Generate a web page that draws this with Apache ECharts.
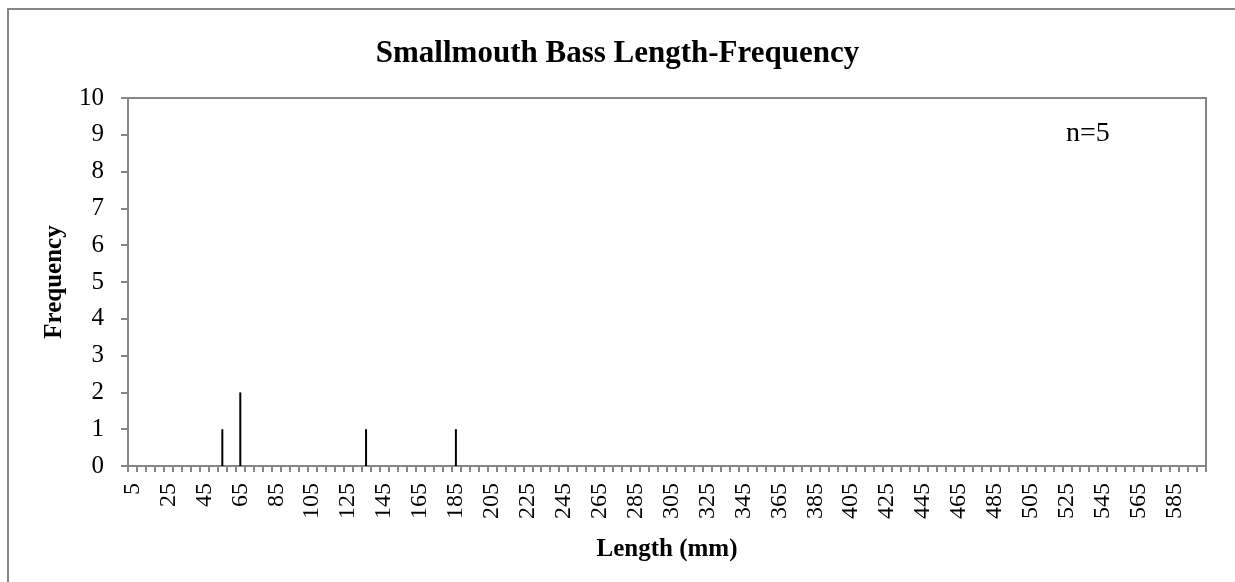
<!DOCTYPE html>
<html>
<head>
<meta charset="utf-8">
<script src="https://cdn.jsdelivr.net/npm/echarts@6/dist/echarts.min.js"></script>
<style>
  html, body { margin: 0; padding: 0; background: #fff; }
  #chart { width: 1235px; height: 582px; }
</style>
</head>
<body>
<div id="chart"></div>
<script>
// length classes (mm), 5 mm bins
const lengthBins = [
  5, 10, 15, 20, 25, 30, 35, 40, 45, 50, 55, 60, 65, 70, 75, 80, 85, 90, 95, 100,
  105, 110, 115, 120, 125, 130, 135, 140, 145, 150, 155, 160, 165, 170, 175, 180, 185, 190, 195, 200,
  205, 210, 215, 220, 225, 230, 235, 240, 245, 250, 255, 260, 265, 270, 275, 280, 285, 290, 295, 300,
  305, 310, 315, 320, 325, 330, 335, 340, 345, 350, 355, 360, 365, 370, 375, 380, 385, 390, 395, 400,
  405, 410, 415, 420, 425, 430, 435, 440, 445, 450, 455, 460, 465, 470, 475, 480, 485, 490, 495, 500,
  505, 510, 515, 520, 525, 530, 535, 540, 545, 550, 555, 560, 565, 570, 575, 580, 585, 590, 595, 600
]
// observed fish
const caughtLengths = [55, 65, 135, 185]
const caughtCounts = [1, 2, 1, 1]

const font = '"Liberation Serif", "Times New Roman", serif'
const axisGray = '#868686'

const freq = lengthBins.map(b => {
  const i = caughtLengths.indexOf(b)
  return i >= 0 ? caughtCounts[i] : 0
})

const chart = echarts.init(document.getElementById('chart'))
chart.setOption({
  animation: false,
  backgroundColor: '#fff',
  title: {
    text: 'Smallmouth Bass Length-Frequency',
    left: 'center',
    top: 33,
    textStyle: { fontFamily: font, fontSize: 31, fontWeight: 'bold', color: '#000' }
  },
  grid: {
    left: 128, right: 29, top: 98, bottom: 116,
    show: true, borderColor: axisGray, borderWidth: 2
  },
  xAxis: {
    type: 'category',
    data: lengthBins,
    name: 'Length (mm)',
    nameLocation: 'middle',
    nameGap: 71,
    nameTextStyle: { fontFamily: font, fontSize: 25, fontWeight: 'bold', color: '#000' },
    axisLine: { lineStyle: { color: axisGray, width: 2 } },
    axisTick: { show: true, interval: 0, length: 6, lineStyle: { color: axisGray, width: 2 } },
    axisLabel: {
      interval: 3, rotate: 90, margin: 17,
      fontFamily: font, fontSize: 24, color: '#000'
    },
    splitLine: { show: false }
  },
  yAxis: {
    type: 'value',
    min: 0, max: 10, interval: 1,
    name: 'Frequency',
    nameLocation: 'middle',
    nameGap: 61,
    nameRotate: 90,
    nameTextStyle: { fontFamily: font, fontSize: 25, fontWeight: 'bold', color: '#000' },
    axisLine: { show: true, lineStyle: { color: axisGray, width: 2 } },
    axisTick: { show: true, length: 7, lineStyle: { color: axisGray, width: 2 } },
    axisLabel: { fontFamily: font, fontSize: 25, color: '#000', margin: 24 },
    splitLine: { show: false }
  },
  series: [{
    type: 'bar',
    data: freq,
    barWidth: 2,
    itemStyle: { color: '#000' }
  }],
  graphic: [
    {
      type: 'rect',
      shape: { x: 8, y: 9, width: 1400, height: 800 },
      style: { fill: 'none', stroke: axisGray, lineWidth: 2 },
      silent: true
    },
    {
      type: 'text',
      x: 1066, y: 134,
      style: { text: 'n=5', fontFamily: font, fontSize: 28, fill: '#000', verticalAlign: 'middle' }
    }
  ]
})
</script>
</body>
</html>
